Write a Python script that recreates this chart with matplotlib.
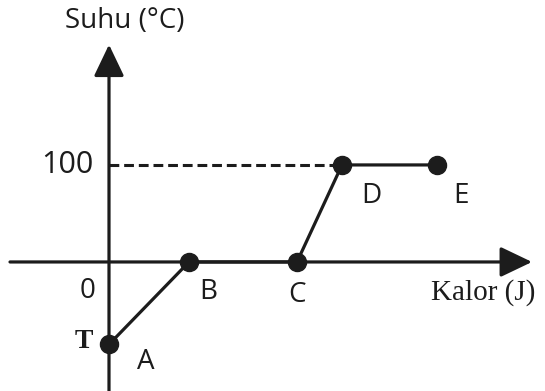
import matplotlib.pyplot as plt

# data
points = ['A', 'B', 'C', 'D', 'E']
kalor = [0, 80, 188, 233, 328]
suhu = [-85, 0, 0, 100, 100]
ytick_value = 100

ink = '#1c1c1c'
fig = plt.figure(figsize=(5.45, 3.91), dpi=100)
ax = fig.add_axes([0, 0, 1, 1])
ax.set_xlim(-109, 436)
ax.set_ylim(-133, 270)
ax.axis('off')

# axes with arrow heads
arrow = dict(arrowstyle='-|>,head_length=1.15,head_width=0.55', lw=2.3,
             color=ink, mutation_scale=17, shrinkA=0, shrinkB=0)
ax.annotate('', xy=(423, 0), xytext=(-99, 0), arrowprops=arrow)
ax.annotate('', xy=(0, 224), xytext=(0, -135), arrowprops=arrow)

# dashed guide to 100
ax.plot([0, kalor[3]], [ytick_value, ytick_value], ls=(0, (3.2, 1.6)),
        lw=2.2, color=ink)

# the heating curve
ax.plot(kalor, suhu, color=ink, lw=2.3, marker='o', ms=13,
        solid_capstyle='round', zorder=3)

sans = 'Open Sans'
offsets = [(37, -18), (19, -30), (0, -33), (29, -31), (24, -31)]
for name, x, y, off in zip(points, kalor, suhu, offsets):
    ax.annotate(name, (x, y), xytext=off, textcoords='offset pixels',
                ha='center', va='center', fontsize=20, family=sans, color=ink)

ax.annotate('T', (kalor[0], suhu[0]), xytext=(-25, 3), textcoords='offset pixels',
            ha='center', va='center', fontsize=20, family='Liberation Serif',
            weight='bold', color=ink)

ax.annotate(str(ytick_value), (0, ytick_value), xytext=(-42, 0),
            textcoords='offset pixels', ha='center', va='center',
            fontsize=22, family=sans, color=ink)
ax.annotate('0', (0, 0), xytext=(-21, -29), textcoords='offset pixels',
            ha='center', va='center', fontsize=20, family=sans, color=ink)

ax.text(0.229, 0.946, 'Suhu (°C)', transform=ax.transAxes, ha='center',
        va='center', fontsize=20, family=sans, color=ink)
ax.text(0.886, 0.251, 'Kalor (J)', transform=ax.transAxes, ha='center',
        va='center', fontsize=21, family='Liberation Serif', color=ink)

fig.savefig('out.png', dpi=100)
